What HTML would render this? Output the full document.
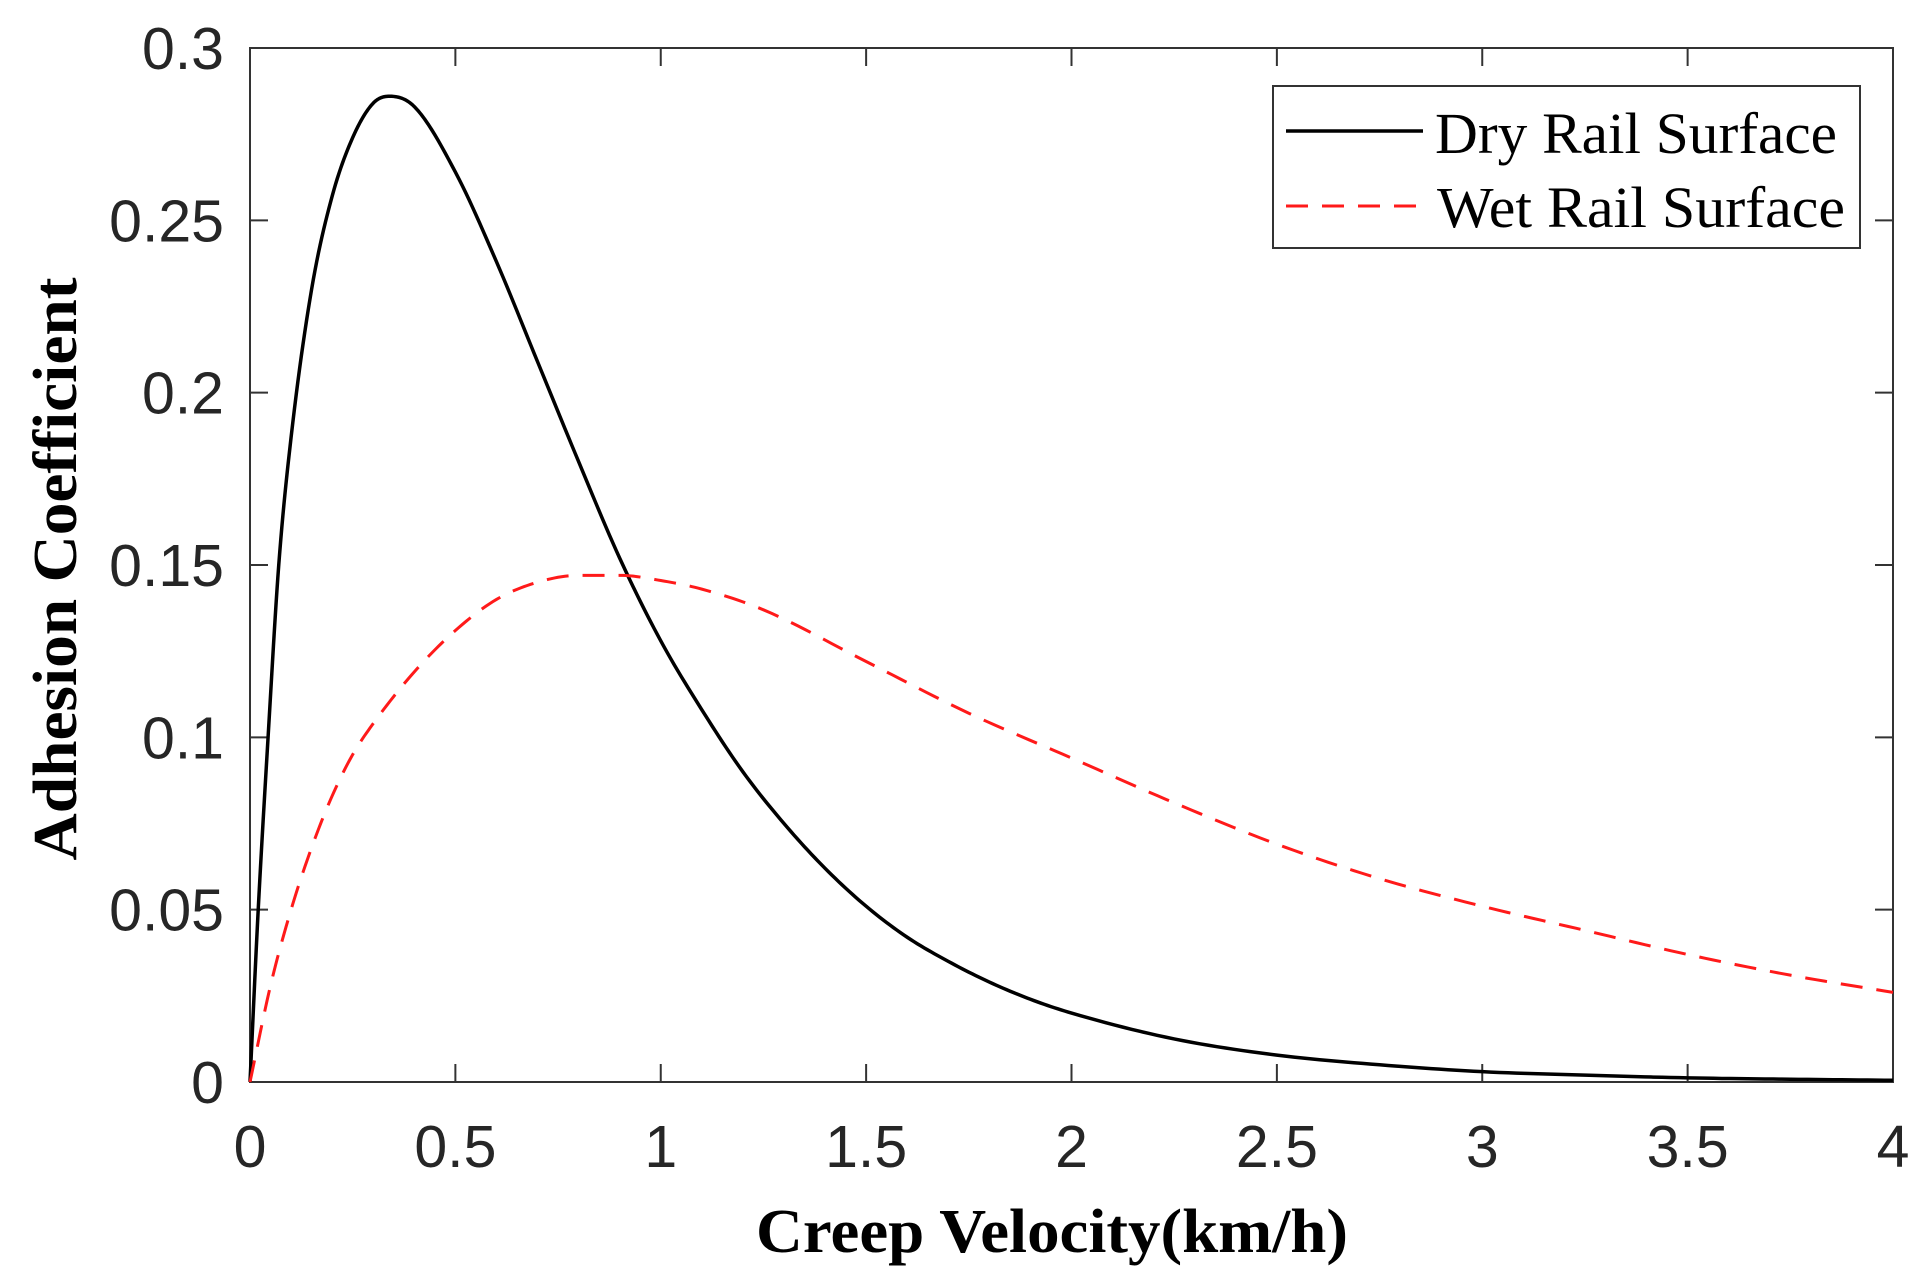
<!DOCTYPE html>
<html><head><meta charset="utf-8"><style>
html,body{margin:0;padding:0;background:#fff;width:1928px;height:1288px;overflow:hidden}
</style></head><body>
<svg id="chart" width="1928" height="1288" xmlns="http://www.w3.org/2000/svg"></svg>
<script>
const xTicks=[0,0.5,1,1.5,2,2.5,3,3.5,4];
const xTickLabels=["0","0.5","1","1.5","2","2.5","3","3.5","4"];
const yTicks=[0,0.05,0.1,0.15,0.2,0.25,0.3];
const yTickLabels=["0","0.05","0.1","0.15","0.2","0.25","0.3"];
const dryX=[0,0.02,0.044,0.07,0.1,0.15,0.2,0.25,0.3,0.34,0.4,0.5,0.6,0.7,0.8,0.9,1.0,1.1,1.2,1.3,1.4,1.5,1.6,1.7,1.8,1.9,2.0,2.25,2.5,2.75,3,3.25,3.5,3.75,4];
const dryY=[0,0.05,0.1,0.15,0.187,0.23,0.257,0.274,0.284,0.286,0.283,0.264,0.238,0.209,0.18,0.152,0.128,0.108,0.09,0.075,0.062,0.051,0.042,0.035,0.029,0.024,0.020,0.0125,0.0078,0.005,0.003,0.002,0.0012,0.0008,0.0005];
const wetX=[0,0.05,0.1,0.15,0.2,0.25,0.3,0.4,0.5,0.6,0.7,0.8,0.9,1.0,1.1,1.25,1.5,1.75,2,2.25,2.5,2.75,3,3.25,3.5,3.75,4];
const wetY=[0,0.028,0.05,0.068,0.083,0.095,0.104,0.119,0.131,0.14,0.145,0.147,0.147,0.1455,0.143,0.137,0.122,0.107,0.094,0.081,0.069,0.059,0.051,0.044,0.037,0.031,0.026];

const L=250,R=1893,T=48,B=1082;
const sx=v=>L+(v-0)/(4-0)*(R-L);
const sy=v=>B-(v-0)/(0.3-0)*(B-T);
const svg=document.getElementById('chart');
const NS='http://www.w3.org/2000/svg';
function mk(tag,attrs,parent){const e=document.createElementNS(NS,tag);for(const k in attrs)e.setAttribute(k,attrs[k]);(parent||svg).appendChild(e);return e;}
function monotonePath(xs,ys){
  const n=xs.length,d=[],m=new Array(n);
  for(let i=0;i<n-1;i++)d.push((ys[i+1]-ys[i])/(xs[i+1]-xs[i]));
  m[0]=d[0];m[n-1]=d[n-2];
  for(let i=1;i<n-1;i++){m[i]=(d[i-1]*d[i]<=0)?0:(d[i-1]+d[i])/2;}
  for(let i=0;i<n-1;i++){if(d[i]===0){m[i]=0;m[i+1]=0;continue;}const a=m[i]/d[i],b=m[i+1]/d[i],s=a*a+b*b;if(s>9){const t=3/Math.sqrt(s);m[i]=t*a*d[i];m[i+1]=t*b*d[i];}}
  let path='M'+sx(xs[0])+','+sy(ys[0]);
  for(let i=0;i<n-1;i++){
    const h=xs[i+1]-xs[i];
    for(let k=1;k<=12;k++){
      const t=k/12,t2=t*t,t3=t2*t;
      const y=(2*t3-3*t2+1)*ys[i]+(t3-2*t2+t)*h*m[i]+(-2*t3+3*t2)*ys[i+1]+(t3-t2)*h*m[i+1];
      path+=' L'+sx(xs[i]+t*h).toFixed(2)+','+sy(y).toFixed(2);
    }
  }
  return path;
}
const frame=mk('rect',{x:L,y:T,width:R-L,height:B-T,fill:'none',stroke:'#333','stroke-width':2});


xTicks.forEach((v,i)=>{
  const x=sx(v);
  const t1=mk('line',{x1:x,y1:B,x2:x,y2:B-18,stroke:'#333','stroke-width':2});
  
  
  mk('line',{x1:x,y1:T,x2:x,y2:T+18,stroke:'#333','stroke-width':2});
  const t=mk('text',{x:x,y:1167,'text-anchor':'middle','font-family':'Liberation Sans, sans-serif','font-size':59,fill:'#262626'});
  t.textContent=xTickLabels[i];
  
  
});
yTicks.forEach((v,i)=>{
  const y=sy(v);
  const t1=mk('line',{x1:L,y1:y,x2:L+18,y2:y,stroke:'#333','stroke-width':2});
  
  
  mk('line',{x1:R,y1:y,x2:R-18,y2:y,stroke:'#333','stroke-width':2});
  const t=mk('text',{x:224,y:y+21,'text-anchor':'end','font-family':'Liberation Sans, sans-serif','font-size':59,fill:'#262626'});
  t.textContent=yTickLabels[i];
  
  
});
const dry=mk('path',{d:monotonePath(dryX,dryY),fill:'none',stroke:'#000','stroke-width':3.5,'stroke-linejoin':'round'});


const wet=mk('path',{d:monotonePath(wetX,wetY),fill:'none',stroke:'#ff1a1a','stroke-width':3,'stroke-dasharray':'22,14'});


const xt=mk('text',{x:756,y:1252,'font-family':'Liberation Serif, serif','font-size':62,'font-weight':'bold',fill:'#000','xml:space':'preserve',textLength:592,lengthAdjust:'spacingAndGlyphs'});
xt.textContent='Creep  Velocity(km/h)';


const yt=mk('text',{x:0,y:0,transform:'translate(76,569) rotate(-90)','text-anchor':'middle','font-family':'Liberation Serif, serif','font-size':62,'font-weight':'bold',fill:'#000',textLength:583,lengthAdjust:'spacingAndGlyphs'});
yt.textContent='Adhesion Coefficient';


const lg=mk('g',{});


mk('rect',{x:1273,y:86,width:587,height:162,fill:'#fff',stroke:'#333','stroke-width':2},lg);
const e1=mk('g',{},lg);


mk('line',{x1:1286,y1:131,x2:1423,y2:131,stroke:'#000','stroke-width':3.5},e1);
const l1=mk('text',{x:1435,y:153,'font-family':'Liberation Serif, serif','font-size':58,fill:'#000',textLength:402,lengthAdjust:'spacingAndGlyphs'},e1);
l1.textContent='Dry Rail Surface';
const e2=mk('g',{},lg);


mk('line',{x1:1286,y1:206,x2:1423,y2:206,stroke:'#ff1a1a','stroke-width':3,'stroke-dasharray':'22,14'},e2);
const l2=mk('text',{x:1437,y:227,'font-family':'Liberation Serif, serif','font-size':58,fill:'#000',textLength:408,lengthAdjust:'spacingAndGlyphs'},e2);
l2.textContent='Wet Rail Surface';
</script>
</body></html>
